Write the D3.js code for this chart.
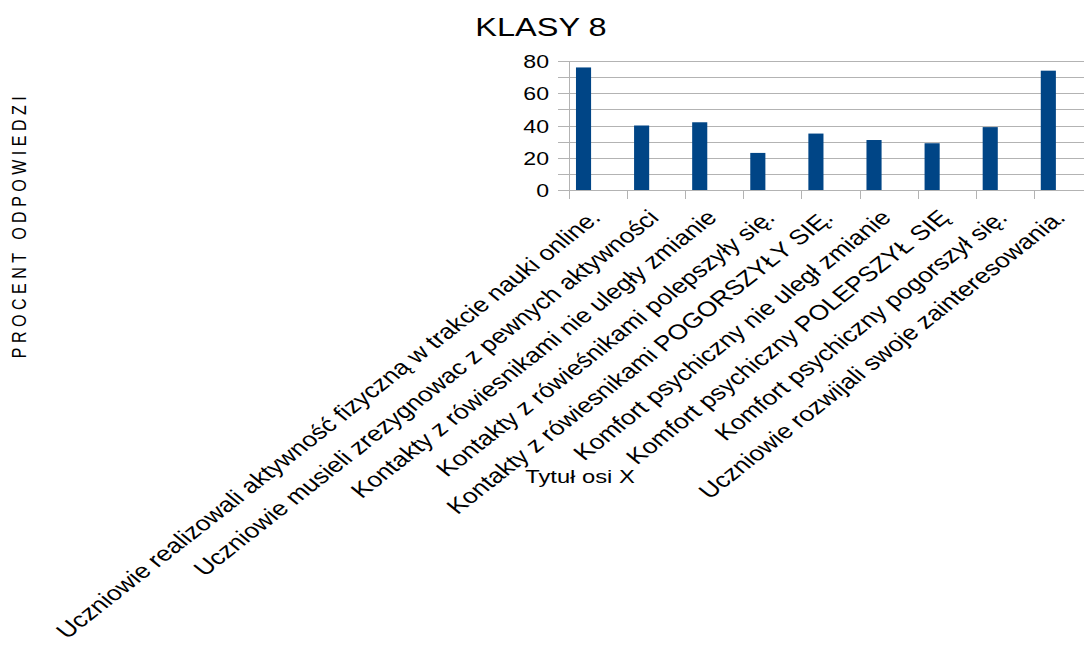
<!DOCTYPE html>
<html>
<head>
<meta charset="utf-8">
<script src="https://d3js.org/d3.v7.min.js"></script>
<style>
  body { margin: 0; background: #fff; }
  text { font-family: "Liberation Sans", Arial, sans-serif; fill: #000; }
</style>
</head>
<body>
<div class="chart"></div>
<script>
  // data
  var categories = [
    "Uczniowie realizowali aktywność fizyczną w trakcie nauki online.",
    "Uczniowie musieli zrezygnowac z pewnych aktywności",
    "Kontakty z rówiesnikami nie uległy zmianie",
    "Kontakty z rówieśnikami polepszyły się.",
    "Kontakty z rówiesnikami POGORSZYŁY SIĘ.",
    "Komfort psychiczny nie uległ zmianie",
    "Komfort psychiczny POLEPSZYŁ SIĘ",
    "Komfort psychiczny pogorszył się.",
    "Uczniowie rozwijali swoje zainteresowania."
  ];
  var values = [76, 40, 42, 23, 35, 31, 29, 39, 74];
  var yTicks = [0, 10, 20, 30, 40, 50, 60, 70, 80];
  var yLabels = [0, 20, 40, 60, 80];

  var w = 1084, h = 648;
  var sx = 1.25; // text in the source is a bit wider than tall
  var plotLeft = 569, plotTop = 61, plotBottom = 190;
  var step = 58.1;

  var svg = d3.select(".chart").append("svg")
    .attr("width", w).attr("height", h);

  var x = d3.scaleBand()
    .domain(categories)
    .range([plotLeft, plotLeft + step * categories.length])
    .padding(0);
  var y = d3.scaleLinear().domain([0, 80]).range([plotBottom, plotTop]);

  function crisp(v) { return Math.round(v) + 0.5; }

  // grid lines
  svg.append("g").selectAll("line")
    .data(yTicks).enter().append("line")
    .attr("x1", plotLeft - 11).attr("x2", w)
    .attr("y1", function(d) { return crisp(y(d)); })
    .attr("y2", function(d) { return crisp(y(d)); })
    .attr("stroke", "#b3b3b3").attr("stroke-width", 1);

  // y axis line + category ticks
  svg.append("line")
    .attr("x1", crisp(plotLeft)).attr("x2", crisp(plotLeft))
    .attr("y1", crisp(y(80))).attr("y2", plotBottom + 9)
    .attr("stroke", "#b3b3b3");
  svg.append("g").selectAll("line")
    .data(categories).enter().append("line")
    .attr("x1", function(d) { return crisp(x(d)); })
    .attr("x2", function(d) { return crisp(x(d)); })
    .attr("y1", crisp(y(0))).attr("y2", plotBottom + 9)
    .attr("stroke", "#b3b3b3");

  // bars
  svg.append("g").selectAll("rect")
    .data(values).enter().append("rect")
    .attr("x", function(d, i) { return x(categories[i]) + x.bandwidth() * 0.12; })
    .attr("width", x.bandwidth() * 0.26)
    .attr("y", function(d) { return y(d); })
    .attr("height", function(d) { return y(0) - y(d); })
    .attr("fill", "#004586");

  // y tick labels
  svg.append("g").selectAll("text")
    .data(yLabels).enter().append("text")
    .attr("transform", function(d) {
      return "translate(549," + (y(d) + 7) + ") scale(" + sx + ",1)";
    })
    .attr("text-anchor", "end")
    .attr("font-size", 18.5)
    .text(function(d) { return d; });

  // category labels
  svg.append("g").selectAll("text")
    .data(categories).enter().append("text")
    .attr("transform", function(d) {
      var cx = x(d) + x.bandwidth() / 2 + 4;
      return "translate(" + cx + ",219) scale(" + sx + ",1) rotate(-44.5)";
    })
    .attr("text-anchor", "end")
    .attr("font-size", 21.1)
    .text(function(d) { return d; });

  // title
  svg.append("text")
    .attr("transform", "translate(541,36) scale(" + sx + ",1)")
    .attr("text-anchor", "middle")
    .attr("font-size", 26)
    .text("KLASY 8");

  // axis titles
  svg.append("text")
    .attr("transform", "translate(580,483) scale(" + sx + ",1)")
    .attr("text-anchor", "middle")
    .attr("font-size", 19)
    .text("Tytuł osi X");

  svg.append("text")
    .attr("transform", "translate(26,225) scale(" + sx + ",1) rotate(-90)")
    .attr("text-anchor", "middle")
    .attr("font-size", 16)
    .attr("letter-spacing", 4.5)
    .text("PROCENT ODPOWIEDZI");
</script>
</body>
</html>
